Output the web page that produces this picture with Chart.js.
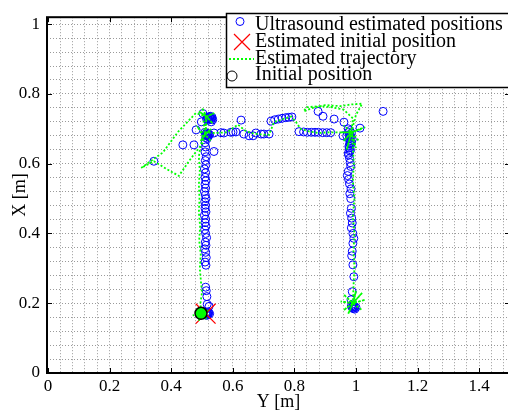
<!DOCTYPE html>
<html>
<head>
<meta charset="utf-8">
<script src="https://cdn.jsdelivr.net/npm/chart.js@4.4.1/dist/chart.umd.min.js"></script>
<style>
  html, body { margin: 0; padding: 0; overflow: hidden; background: #fff; }
  #wrap { width: 510px; height: 414px; }
</style>
</head>
<body>
<div id="wrap"><canvas id="chart" width="510" height="414"></canvas></div>
<script>
// points are [Y, X] in metres: Y runs along the horizontal axis, X up the vertical one
const ultrasoundPoints = [
  // start
  [0.518, 0.168], [0.522, 0.172], [0.515, 0.165], [0.525, 0.170], [0.520, 0.175], [0.512, 0.170],
  [0.520, 0.168], [0.518, 0.172], [0.516, 0.169],
  [0.523, 0.191], [0.517, 0.197],
  // left leg
  [0.516, 0.219], [0.514, 0.236], [0.512, 0.246], [0.513, 0.309], [0.510, 0.318], [0.514, 0.331],
  [0.512, 0.346], [0.509, 0.356], [0.513, 0.366], [0.511, 0.375], [0.515, 0.388], [0.512, 0.400],
  [0.509, 0.411], [0.513, 0.421], [0.510, 0.431], [0.512, 0.441], [0.508, 0.452], [0.513, 0.462],
  [0.510, 0.472], [0.512, 0.481], [0.509, 0.491], [0.513, 0.500], [0.511, 0.510], [0.508, 0.520],
  [0.512, 0.530], [0.510, 0.541], [0.513, 0.551], [0.510, 0.561], [0.512, 0.574], [0.508, 0.585],
  [0.513, 0.597], [0.511, 0.609], [0.514, 0.620], [0.510, 0.634], [0.512, 0.648], [0.510, 0.660],
  // first corner
  [0.512, 0.675], [0.518, 0.680], [0.522, 0.684], [0.515, 0.688], [0.520, 0.678], [0.525, 0.683],
  [0.510, 0.690], [0.517, 0.672], [0.514, 0.680], [0.520, 0.685], [0.517, 0.683], [0.513, 0.685],
  [0.344, 0.607], [0.438, 0.654], [0.474, 0.654], [0.539, 0.635], [0.481, 0.697], [0.503, 0.744],
  [0.498, 0.720],
  [0.520, 0.725], [0.525, 0.730], [0.530, 0.728], [0.533, 0.733], [0.527, 0.736], [0.520, 0.733],
  [0.535, 0.726], [0.515, 0.728], [0.530, 0.720], [0.522, 0.728], [0.528, 0.732], [0.532, 0.730],
  [0.525, 0.735], [0.518, 0.730],
  [0.627, 0.725],
  // top leg
  [0.539, 0.688], [0.562, 0.689], [0.571, 0.688], [0.594, 0.690], [0.601, 0.691], [0.610, 0.691],
  [0.636, 0.685], [0.653, 0.680], [0.666, 0.680], [0.675, 0.688], [0.692, 0.685], [0.701, 0.685],
  [0.718, 0.685],
  [0.724, 0.722], [0.736, 0.726], [0.748, 0.728], [0.760, 0.730], [0.772, 0.732], [0.782, 0.733],
  [0.792, 0.734],
  [0.815, 0.692], [0.830, 0.691], [0.842, 0.690], [0.855, 0.690], [0.867, 0.690], [0.878, 0.690],
  [0.892, 0.689], [0.905, 0.689], [0.918, 0.689], [0.958, 0.680],
  [0.877, 0.750], [0.893, 0.736], [0.929, 0.728], [1.088, 0.750], [1.013, 0.702], [0.961, 0.719],
  // second corner
  [0.975, 0.700], [0.980, 0.695], [0.985, 0.688], [0.978, 0.682], [0.983, 0.676], [0.988, 0.670],
  [0.980, 0.665], [0.976, 0.690], [0.970, 0.680], [0.982, 0.680], [0.978, 0.672], [0.985, 0.660],
  [0.980, 0.658], [0.977, 0.650], [0.982, 0.640], [0.975, 0.630],
  // right leg
  [0.983, 0.655], [0.978, 0.645], [0.981, 0.636], [0.976, 0.625], [0.979, 0.615], [0.981, 0.603],
  [0.983, 0.592], [0.975, 0.578], [0.972, 0.566], [0.976, 0.555], [0.979, 0.542], [0.984, 0.528],
  [0.980, 0.514], [0.983, 0.500], [0.985, 0.472], [0.982, 0.458], [0.986, 0.444], [0.988, 0.430],
  [0.985, 0.416], [0.990, 0.400], [0.993, 0.386], [0.990, 0.372], [0.988, 0.349], [0.986, 0.336],
  [0.990, 0.310], [0.993, 0.276], [0.988, 0.233],
  [0.984, 0.210], [0.990, 0.198], [0.995, 0.190], [0.990, 0.185], [0.996, 0.183], [0.985, 0.192],
  [1.000, 0.188], [0.990, 0.190], [0.993, 0.186], [0.988, 0.188], [0.992, 0.194]
];

const trajectoryPoints = [
  [0.497, 0.171], [0.470, 0.165], [0.497, 0.171], [0.520, 0.180], [0.497, 0.171], [0.490, 0.150],
  [0.497, 0.171], [0.515, 0.155], [0.497, 0.171], [0.480, 0.185], [0.497, 0.171],
  [0.495, 0.200], [0.500, 0.230], [0.497, 0.260], [0.493, 0.300], [0.496, 0.340], [0.491, 0.380],
  [0.494, 0.420], [0.490, 0.460], [0.492, 0.500], [0.490, 0.540], [0.493, 0.580], [0.490, 0.620],
  [0.495, 0.650], [0.505, 0.675],
  [0.490, 0.700], [0.510, 0.683], [0.530, 0.700], [0.510, 0.683], [0.530, 0.665], [0.510, 0.683],
  [0.495, 0.665], [0.510, 0.683],
  [0.505, 0.720], [0.515, 0.735], [0.490, 0.750], [0.515, 0.735], [0.540, 0.745], [0.515, 0.735],
  [0.535, 0.715], [0.515, 0.735], [0.500, 0.760], [0.515, 0.735],
  [0.480, 0.745], [0.422, 0.691], [0.373, 0.632], [0.328, 0.604], [0.303, 0.588], [0.344, 0.607],
  [0.385, 0.585], [0.425, 0.565], [0.460, 0.610], [0.503, 0.660], [0.513, 0.700], [0.515, 0.735],
  [0.510, 0.690],
  [0.540, 0.688], [0.580, 0.690], [0.617, 0.712], [0.640, 0.695], [0.659, 0.688], [0.690, 0.684],
  [0.718, 0.683], [0.734, 0.719], [0.760, 0.727], [0.790, 0.735], [0.805, 0.720], [0.820, 0.700],
  [0.850, 0.692], [0.880, 0.688], [0.910, 0.690], [0.940, 0.690], [0.985, 0.690],
  [1.020, 0.700], [0.985, 0.690], [0.960, 0.710], [0.985, 0.690], [1.010, 0.665], [0.985, 0.690],
  [0.960, 0.665], [0.985, 0.690], [1.030, 0.705], [0.985, 0.690], [0.950, 0.690], [0.985, 0.690],
  [1.000, 0.645], [0.985, 0.690], [0.970, 0.640], [0.985, 0.690], [0.990, 0.730],
  [0.960, 0.755], [0.920, 0.762], [0.880, 0.765], [0.840, 0.762], [0.830, 0.750], [0.860, 0.760],
  [0.900, 0.768], [0.950, 0.765], [0.985, 0.770], [1.020, 0.772], [1.000, 0.740], [0.985, 0.690],
  [0.990, 0.650], [0.993, 0.600], [0.990, 0.550], [0.995, 0.500], [0.990, 0.450], [0.995, 0.400],
  [0.992, 0.350], [0.995, 0.300], [0.992, 0.250], [0.990, 0.200],
  [0.950, 0.205], [0.990, 0.200], [1.030, 0.210], [0.990, 0.200], [1.000, 0.235], [0.990, 0.200],
  [0.975, 0.170], [0.990, 0.200], [1.020, 0.180], [0.990, 0.200], [0.960, 0.225], [0.990, 0.200],
  [1.020, 0.230], [0.990, 0.200], [0.960, 0.180], [0.990, 0.200]
];

const estimatedInitial = [[0.512, 0.170]];
const initialPosition = [[0.497, 0.171]];

const legendLabels = [
  "Ultrasound estimated positions",
  "Estimated initial position",
  "Estimated trajectory",
  "Initial position"
];

const xTickLabels = ["0", "0.2", "0.4", "0.6", "0.8", "1", "1.2", "1.4"];
const yTickLabels = ["0", "0.2", "0.4", "0.6", "0.8", "1"];
const gridStep = 0.04;

const SERIF = "'Liberation Serif', 'DejaVu Serif', serif";

const toXY = (pts) => pts.map(([y, x]) => ({ x: y, y: x }));

// grid ticks every 0.04, label only on the 0.2 ones
const minorTicks = (labels) => {
  const last = parseFloat(labels[labels.length - 1]);
  const out = [];
  for (let i = 0; i * gridStep <= last + 0.1 + 1e-9; i++) out.push(+(i * gridStep).toFixed(2));
  return out;
};
const labelFor = (labels) => (v) => {
  const s = String(+v.toFixed(2));
  return labels.includes(s) ? s : "";
};

const xGrid = minorTicks(xTickLabels);
const yGrid = minorTicks(yTickLabels).filter(v => v <= 1.0);

const framePlugin = {
  id: "frame",
  afterDatasetsDraw(chart) {
    const { ctx, chartArea: a, scales } = chart;
    ctx.save();
    ctx.strokeStyle = "#000";
    ctx.lineWidth = 2;
    ctx.strokeRect(a.left, a.top, a.right - a.left, a.bottom - a.top);
    ctx.lineWidth = 1;
    ctx.beginPath();
    xTickLabels.forEach(t => {
      const p = Math.round(scales.x.getPixelForValue(parseFloat(t))) + 0.5;
      ctx.moveTo(p, a.bottom); ctx.lineTo(p, a.bottom - 5);
      ctx.moveTo(p, a.top); ctx.lineTo(p, a.top + 5);
    });
    yTickLabels.forEach(t => {
      const p = Math.round(scales.y.getPixelForValue(parseFloat(t))) + 0.5;
      ctx.moveTo(a.left, p); ctx.lineTo(a.left + 5, p);
      ctx.moveTo(a.right, p); ctx.lineTo(a.right - 5, p);
    });
    ctx.stroke();
    ctx.restore();
  }
};

const legendPlugin = {
  id: "boxLegend",
  afterDraw(chart) {
    const ctx = chart.ctx;
    const bx = 226, by = 13, bh = 74;
    ctx.save();
    ctx.fillStyle = "#fff";
    ctx.fillRect(bx, by, 300, bh);
    ctx.strokeStyle = "#000";
    ctx.lineWidth = 1.5;
    ctx.strokeRect(bx + 0.5, by + 0.5, 300, bh);

    // markers
    ctx.lineWidth = 1;
    ctx.strokeStyle = "#0000ff";
    ctx.beginPath(); ctx.arc(240, 21.5, 4, 0, Math.PI * 2); ctx.stroke();

    ctx.strokeStyle = "#ff0000";
    ctx.lineWidth = 1.2;
    ctx.beginPath();
    ctx.moveTo(234, 34); ctx.lineTo(250, 50);
    ctx.moveTo(250, 34); ctx.lineTo(234, 50);
    ctx.stroke();

    ctx.strokeStyle = "#00ff00";
    ctx.lineWidth = 1.8;
    ctx.setLineDash([2, 2]);
    ctx.beginPath(); ctx.moveTo(229, 59); ctx.lineTo(254, 59); ctx.stroke();
    ctx.setLineDash([]);

    ctx.strokeStyle = "#000";
    ctx.lineWidth = 1;
    ctx.beginPath(); ctx.arc(232, 76, 5, 0, Math.PI * 2); ctx.stroke();

    ctx.fillStyle = "#000";
    ctx.font = "20px " + SERIF;
    ctx.textBaseline = "alphabetic";
    const baselines = [30, 47, 64, 80];
    legendLabels.forEach((txt, i) => ctx.fillText(txt, 255, baselines[i]));
    ctx.restore();
  }
};

new Chart(document.getElementById("chart"), {
  type: "scatter",
  data: {
    datasets: [
      {
        label: legendLabels[3],
        data: toXY(initialPosition),
        pointStyle: "circle",
        pointRadius: 6,
        pointBorderColor: "#000",
        pointBackgroundColor: "#00ff00",
        pointBorderWidth: 1.5,
        order: 0
      },
      {
        label: legendLabels[2],
        data: toXY(trajectoryPoints),
        showLine: true,
        borderColor: "#00ff00",
        borderWidth: 1.8,
        borderDash: [2, 2],
        pointRadius: 0,
        order: 1
      },
      {
        label: legendLabels[1],
        data: toXY(estimatedInitial),
        pointStyle: "crossRot",
        pointRadius: 14,
        pointBorderColor: "#ff0000",
        pointBackgroundColor: "#ff0000",
        pointBorderWidth: 1.3,
        order: 2
      },
      {
        label: legendLabels[0],
        data: toXY(ultrasoundPoints),
        pointStyle: "circle",
        pointRadius: 4,
        pointBorderColor: "#0000ff",
        pointBackgroundColor: "rgba(0,0,0,0)",
        pointBorderWidth: 1,
        order: 3
      }
    ]
  },
  options: {
    responsive: false,
    animation: false,
    events: [],
    layout: { autoPadding: false, padding: { top: 10, right: 0, left: 0, bottom: 0 } },
    plugins: {
      legend: { display: false },
      tooltip: { enabled: false }
    },
    scales: {
      x: {
        type: "linear",
        min: -0.003,
        max: 1.5,
        afterFit: (s) => { s.height = 41; },
        afterBuildTicks: (s) => { s.ticks = xGrid.map(v => ({ value: v })); },
        ticks: {
          callback: labelFor(xTickLabels),
          autoSkip: false,
          maxRotation: 0,
          padding: 3,
          color: "#000",
          font: { family: SERIF, size: 17 }
        },
        grid: { color: "#9a9a9a", lineWidth: 1, drawTicks: false },
        border: { display: false, dash: [1, 2] },
        title: {
          display: true,
          text: "Y [m]",
          color: "#000",
          font: { family: SERIF, size: 18 },
          padding: { top: 0, bottom: 1 }
        }
      },
      y: {
        type: "linear",
        min: 0,
        max: 1.02,
        afterFit: (s) => { s.width = 47; },
        afterBuildTicks: (s) => { s.ticks = yGrid.map(v => ({ value: v })); },
        ticks: {
          callback: labelFor(yTickLabels),
          autoSkip: false,
          padding: 7,
          color: "#000",
          font: { family: SERIF, size: 17 }
        },
        grid: { color: "#9a9a9a", lineWidth: 1, drawTicks: false },
        border: { display: false, dash: [1, 2] },
        title: {
          display: true,
          text: "X [m]",
          color: "#000",
          font: { family: SERIF, size: 18 },
          padding: { top: 9, bottom: 0 }
        }
      }
    }
  },
  plugins: [framePlugin, legendPlugin]
});
</script>
</body>
</html>
